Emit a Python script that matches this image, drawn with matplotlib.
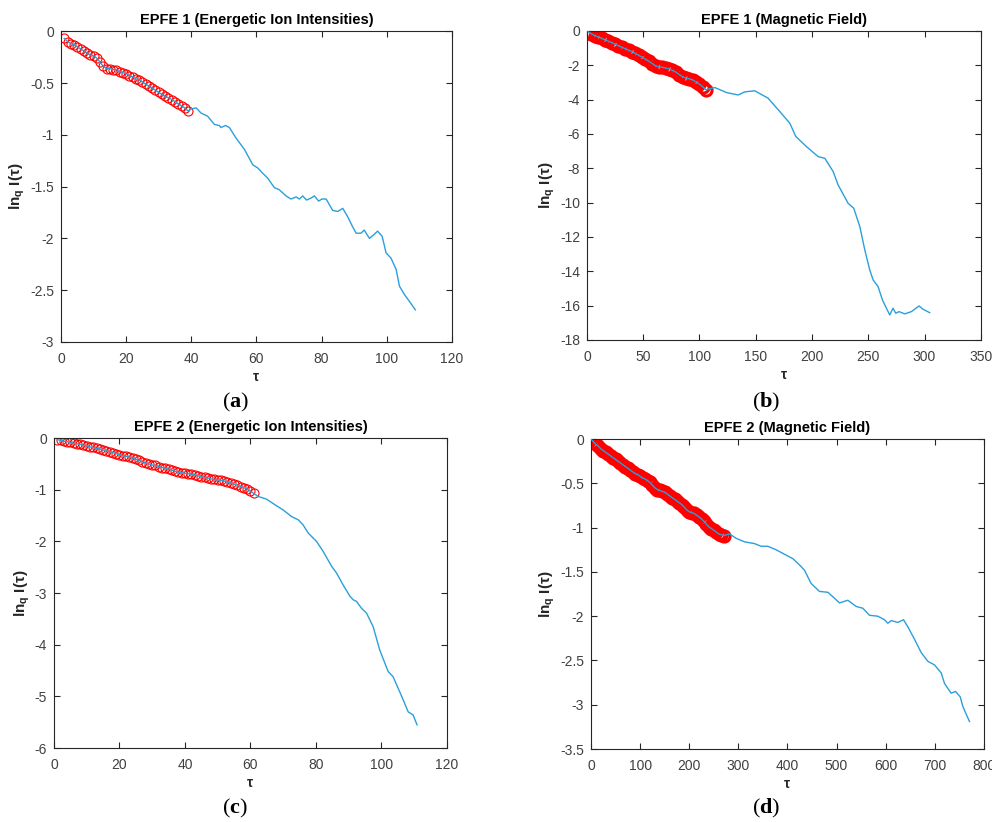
import numpy as np
import matplotlib
matplotlib.use("Agg")
from matplotlib import pyplot as plt
from matplotlib.ticker import FuncFormatter

plt.rcParams['font.family'] = ['Liberation Sans', 'DejaVu Sans']
plt.rcParams['axes.unicode_minus'] = False
plt.rcParams['mathtext.fontset'] = 'custom'
plt.rcParams['mathtext.sf'] = 'Liberation Sans:bold'
plt.rcParams['mathtext.bf'] = 'Liberation Serif:bold'

# (a) EPFE 1 energetic ions
a_fit_tau = np.arange(1, 40)
a_fit_val = [-0.07, -0.10, -0.12, -0.13, -0.15, -0.17, -0.19, -0.21, -0.23, -0.24,
             -0.26, -0.30, -0.34, -0.36, -0.36, -0.37, -0.37, -0.39, -0.40, -0.41,
             -0.43, -0.44, -0.46, -0.47, -0.49, -0.51, -0.53, -0.55, -0.57, -0.59,
             -0.61, -0.63, -0.64, -0.66, -0.68, -0.70, -0.72, -0.74, -0.77]
a_tail_tau = [40, 41.5, 43, 45, 47.1, 48.6, 49.1, 50.5, 51.7, 53.7, 56.3, 58.9, 60.4, 61.9,
              63.5, 65.5, 67, 69.1, 70.6, 72.2, 73.2, 74.2, 75.4, 76.8, 77.8, 79.1, 80.1,
              81.4, 83.4, 85, 86.5, 88, 89.4, 90.6, 92.1, 93.1, 94.7, 96.2, 97.2, 98.6,
              99.8, 101.3, 102.9, 103.9, 105.4, 107, 108.8]
a_tail_val = [-0.75, -0.74, -0.79, -0.82, -0.90, -0.91, -0.93, -0.91, -0.93, -1.03, -1.14,
              -1.29, -1.32, -1.37, -1.42, -1.51, -1.53, -1.59, -1.62, -1.60, -1.62, -1.59,
              -1.63, -1.61, -1.59, -1.64, -1.62, -1.62, -1.73, -1.74, -1.71, -1.79, -1.88,
              -1.95, -1.95, -1.92, -2.00, -1.96, -1.93, -1.98, -2.14, -2.19, -2.30, -2.46,
              -2.54, -2.61, -2.69]

# (b) EPFE 1 magnetic field
b_fit_tau = np.arange(1, 107, 3)
b_fit_val = [-0.05, -0.17, -0.27, -0.35, -0.43, -0.52, -0.60, -0.68, -0.77, -0.86,
             -0.95, -1.04, -1.12, -1.21, -1.31, -1.42, -1.53, -1.65, -1.77, -1.90,
             -2.03, -2.10, -2.12, -2.16, -2.22, -2.30, -2.40, -2.54, -2.67, -2.75,
             -2.79, -2.86, -2.97, -3.10, -3.26, -3.44]
b_tail_tau = [108, 113.7, 124, 134.4, 140.3, 149.2, 161, 171.4, 180.3, 185.6, 195.1, 205.4,
              211.4, 218.8, 223.2, 232.1, 237.1, 242.5, 246.9, 251.3, 254.3, 258.7, 262.6,
              266.1, 269.1, 272, 274.4, 277.4, 282.4, 288.3, 295.1, 298.7, 304.6]
b_tail_val = [-3.38, -3.30, -3.59, -3.73, -3.55, -3.49, -3.92, -4.70, -5.38, -6.15, -6.74,
              -7.32, -7.42, -8.19, -8.97, -10.04, -10.33, -11.40, -12.75, -13.92, -14.50,
              -14.89, -15.67, -16.15, -16.54, -16.15, -16.44, -16.35, -16.48, -16.35,
              -16.02, -16.21, -16.41]

# (c) EPFE 2 energetic ions
c_fit_tau = np.arange(1, 62)
c_fit_val = [-0.03, -0.04, -0.06, -0.07, -0.08, -0.10, -0.11, -0.12, -0.14, -0.15,
             -0.17, -0.18, -0.20, -0.21, -0.23, -0.25, -0.26, -0.28, -0.30, -0.32,
             -0.34, -0.35, -0.37, -0.39, -0.41, -0.43, -0.46, -0.48, -0.50, -0.52,
             -0.53, -0.55, -0.57, -0.58, -0.60, -0.62, -0.64, -0.66, -0.67, -0.68,
             -0.69, -0.70, -0.71, -0.73, -0.75, -0.76, -0.77, -0.79, -0.80, -0.81,
             -0.82, -0.83, -0.85, -0.87, -0.89, -0.91, -0.94, -0.96, -0.99, -1.03, -1.07]
c_tail_tau = [62.4, 64.9, 67.5, 70, 72.6, 74.6, 76.1, 77.7, 80.2, 82.2, 84.8, 86.3, 88.3,
              90.4, 91.4, 92.4, 93.9, 95.5, 97.5, 99.5, 101.1, 102.1, 103.6, 105.6, 106.7,
              108.2, 109.7, 110.9]
c_tail_val = [-1.13, -1.18, -1.29, -1.39, -1.52, -1.58, -1.68, -1.84, -2.00, -2.19, -2.48,
              -2.61, -2.84, -3.06, -3.13, -3.16, -3.29, -3.39, -3.65, -4.10, -4.36, -4.52,
              -4.62, -4.91, -5.07, -5.30, -5.36, -5.55]

# (d) EPFE 2 magnetic field
d_fit_tau = np.arange(0, 271, 5)
d_fit_val = [0.00, -0.03, -0.06, -0.08, -0.11, -0.13, -0.15, -0.17, -0.19, -0.21,
             -0.23, -0.25, -0.27, -0.29, -0.31, -0.33, -0.35, -0.37, -0.39, -0.40,
             -0.42, -0.44, -0.45, -0.47, -0.49, -0.52, -0.55, -0.57, -0.58, -0.59,
             -0.60, -0.62, -0.64, -0.66, -0.68, -0.70, -0.72, -0.74, -0.77, -0.80,
             -0.82, -0.83, -0.84, -0.86, -0.88, -0.90, -0.93, -0.96, -0.99, -1.01,
             -1.03, -1.05, -1.07, -1.08, -1.09]
d_tail_tau = [281.8, 295.4, 312.4, 332.8, 346.3, 359.9, 376.9, 397.3, 410.9, 424.4, 434.6,
              448.2, 465.2, 482.2, 492.4, 506, 523, 540, 553.5, 567.1, 584.1, 597.6, 604.4,
              611.2, 624.8, 636.3, 645.2, 658.7, 672.3, 685.9, 699.5, 713, 719.9, 733.4,
              742.3, 751.8, 757.2, 762.6, 770.8]
d_tail_val = [-1.07, -1.12, -1.16, -1.18, -1.21, -1.21, -1.25, -1.31, -1.35, -1.42, -1.48,
              -1.63, -1.72, -1.73, -1.78, -1.85, -1.82, -1.89, -1.91, -1.99, -2.00, -2.04,
              -2.08, -2.05, -2.07, -2.04, -2.12, -2.26, -2.41, -2.51, -2.55, -2.64, -2.76,
              -2.87, -2.85, -2.91, -3.02, -3.09, -3.19]

titles = ['EPFE 1 (Energetic Ion Intensities)', 'EPFE 1 (Magnetic Field)',
          'EPFE 2 (Energetic Ion Intensities)', 'EPFE 2 (Magnetic Field)']
panel_tags = ['a', 'b', 'c', 'd']

panels = [
    (a_fit_tau, a_fit_val, a_tail_tau, a_tail_val, (0, 120), 20, (-3, 0), 0.5),
    (b_fit_tau, b_fit_val, b_tail_tau, b_tail_val, (0, 350), 50, (-18, 0), 2),
    (c_fit_tau, c_fit_val, c_tail_tau, c_tail_val, (0, 120), 20, (-6, 0), 1),
    (d_fit_tau, d_fit_val, d_tail_tau, d_tail_val, (0, 800), 100, (-3.5, 0), 0.5),
]
# marker size / edge width: the magnetic field panels look like a solid red band
mk = [(6.5, 0.8), (8, 2.2), (6.5, 0.8), (8, 2.2)]

boxes = [
    [0.0615, 0.584, 0.394, 0.378],
    [0.5917, 0.5864, 0.397, 0.376],
    [0.0544, 0.090, 0.396, 0.377],
    [0.5958, 0.0888, 0.396, 0.377],
]
tag_pos = [(0.237, 0.510), (0.772, 0.510), (0.237, 0.017), (0.772, 0.017)]

fig = plt.figure(figsize=(9.92, 8.22), dpi=100)
grey = '#262626'
line_col = '#2a9fdc'

for i, (ft, fv, tt, tv, xl, xs, yl, ys) in enumerate(panels):
    ax = fig.add_axes(boxes[i])
    tau = np.concatenate([ft, tt])
    val = np.concatenate([fv, tv])
    ax.plot(ft, fv, 'o', mfc='none', mec='red', ms=mk[i][0], mew=mk[i][1], zorder=2)
    ax.plot(tau, val, '-', color=line_col, lw=1.0, zorder=3)

    ax.set_xlim(*xl)
    ax.set_ylim(*yl)
    ax.set_xticks(np.arange(xl[0], xl[1] + xs / 2, xs))
    ax.set_yticks(np.arange(yl[0], yl[1] + ys / 2, ys))
    ax.xaxis.set_major_formatter(FuncFormatter(lambda v, p: '%g' % v))
    ax.yaxis.set_major_formatter(FuncFormatter(lambda v, p: '%g' % v))
    ax.tick_params(direction='in', top=True, right=True, length=4, width=0.8,
                   labelsize=10, colors=grey, labelcolor='#404040')
    ax.tick_params(axis='x', pad=7)
    ax.tick_params(axis='y', pad=5)
    for s in ax.spines.values():
        s.set_color(grey)
        s.set_linewidth(0.8)

    ax.set_title(titles[i], fontsize=10.5, fontweight='bold', color='black', pad=5)
    ax.set_xlabel('τ', fontsize=10, fontweight='bold', color=grey, labelpad=3)
    ax.set_ylabel(r'ln$_{\mathsf{q}}$ I(τ)', fontsize=11, fontweight='bold',
                  color=grey, labelpad=2)

    fig.text(tag_pos[i][0], tag_pos[i][1], r'($\mathbf{%s}$)' % panel_tags[i],
             fontsize=16, family='Liberation Serif', ha='center', va='center')

fig.savefig('out.png', dpi=100)
